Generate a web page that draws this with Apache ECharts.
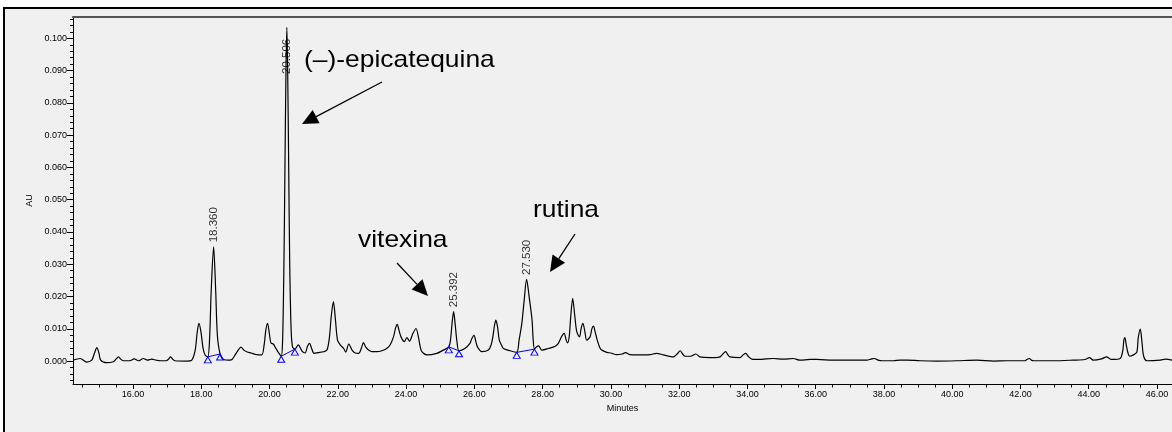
<!DOCTYPE html>
<html>
<head>
<meta charset="utf-8">
<script src="https://cdn.jsdelivr.net/npm/echarts@6/dist/echarts.min.js"></script>
<style>
  html, body { margin: 0; padding: 0; background: #ffffff; }
  #chart { width: 1172px; height: 432px; }
</style>
</head>
<body>
<div id="chart"></div>
<script>
// Chromatogram trace: retention time (min) and absorbance (AU)
const times = [
  14.24, 14.45, 14.64, 14.79, 14.87, 14.94, 15.00, 15.05, 15.23, 15.42,
  15.50, 15.57, 15.65, 15.72, 15.91, 16.03, 16.16, 16.30, 16.42, 16.55,
  16.67, 16.79, 16.97, 17.04, 17.10, 17.17, 17.23, 17.57, 17.72, 17.82,
  17.88, 17.93, 17.99, 18.05, 18.11, 18.19, 18.24, 18.29, 18.36, 18.42,
  18.47, 18.55, 18.65, 18.84, 18.90, 18.99, 19.08, 19.16, 19.25, 19.33,
  19.46, 19.62, 19.77, 19.84, 19.89, 19.94, 20.00, 20.04, 20.11, 20.18,
  20.25, 20.34, 20.38, 20.42, 20.45, 20.48, 20.506, 20.53, 20.56, 20.59,
  20.63, 20.67, 20.74, 20.84, 20.95, 21.04, 21.11, 21.17, 21.23, 21.30,
  21.42, 21.58, 21.68, 21.75, 21.81, 21.87, 21.93, 21.99, 22.07, 22.17,
  22.23, 22.32, 22.42, 22.51, 22.61, 22.69, 22.75, 22.82, 22.90, 23.00,
  23.14, 23.29, 23.43, 23.53, 23.63, 23.69, 23.74, 23.79, 23.85, 23.95,
  24.02, 24.10, 24.20, 24.29, 24.36, 24.41, 24.46, 24.61, 24.90, 25.09,
  25.25, 25.30, 25.35, 25.392, 25.44, 25.49, 25.55, 25.72, 25.87, 25.93,
  25.99, 26.04, 26.09, 26.22, 26.41, 26.49, 26.54, 26.59, 26.63, 26.68,
  26.73, 26.80, 26.85, 27.05, 27.24, 27.31, 27.39, 27.46, 27.53, 27.61,
  27.69, 27.72, 27.76, 27.81, 27.88, 27.98, 28.17, 28.37, 28.46, 28.56,
  28.63, 28.69, 28.73, 28.78, 28.82, 28.88, 28.94, 29.00, 29.08, 29.13,
  29.18, 29.24, 29.29, 29.39, 29.44, 29.49, 29.54, 29.60, 29.67, 29.73,
  29.88, 30.00, 30.17, 30.33, 30.43, 30.56, 30.77, 30.95, 31.15, 31.34,
  31.54, 31.83, 31.94, 32.03, 32.10, 32.17, 32.34, 32.49, 32.61, 32.91,
  33.05, 33.20, 33.28, 33.36, 33.43, 33.49, 33.78, 33.87, 33.95, 34.03,
  34.13, 34.37, 34.55, 34.76, 35.05, 35.34, 35.54, 35.84, 36.03, 36.52,
  37.01, 37.50, 37.62, 37.72, 37.83, 37.94, 38.28, 38.47, 38.67, 39.06,
  39.55, 40.13, 40.72, 41.21, 41.60, 42.13, 42.19, 42.26, 42.32, 42.38,
  42.96, 43.55, 43.89, 44.02, 44.13, 44.38, 44.52, 44.67, 44.92, 45.00,
  45.03, 45.06, 45.10, 45.15, 45.20, 45.32, 45.41, 45.45, 45.51, 45.56,
  45.61, 45.71, 46.10, 46.25, 46.44
];
const absorbance = [
  0.0003, 0.0008, -0.0003, 0.0003, 0.0025, 0.0042, 0.0025, 0.0003, -0.0005, -0.0002,
  0.0006, 0.0013, 0.0005, 0.0001, 0.0001, 0.0007, 0.0001, 0.0008, 0.0003, 0.0006,
  0.0003, 0.0001, 0.0001, 0.0006, 0.0013, 0.0005, 0.0001, 0.0000, 0.0003, 0.0034,
  0.0090, 0.0117, 0.0090, 0.0040, 0.0019, 0.0013, 0.0065, 0.0220, 0.0354, 0.0220,
  0.0080, 0.0022, 0.0005, 0.0003, 0.0005, 0.0019, 0.0034, 0.0043, 0.0034, 0.0029,
  0.0025, 0.0020, 0.0019, 0.0050, 0.0096, 0.0117, 0.0080, 0.0056, 0.0053, 0.0040,
  0.0028, 0.0015, 0.0060, 0.0300, 0.0600, 0.0900, 0.1034, 0.0900, 0.0600, 0.0300,
  0.0100, 0.0045, 0.0037, 0.0050, 0.0031, 0.0025, 0.0046, 0.0055, 0.0040, 0.0024,
  0.0026, 0.0029, 0.0034, 0.0071, 0.0142, 0.0184, 0.0127, 0.0065, 0.0050, 0.0039,
  0.0028, 0.0053, 0.0033, 0.0025, 0.0024, 0.0040, 0.0057, 0.0043, 0.0034, 0.0029,
  0.0029, 0.0032, 0.0039, 0.0050, 0.0075, 0.0102, 0.0114, 0.0096, 0.0075, 0.0060,
  0.0073, 0.0062, 0.0086, 0.0101, 0.0075, 0.0046, 0.0029, 0.0019, 0.0024, 0.0034,
  0.0044, 0.0065, 0.0121, 0.0153, 0.0111, 0.0060, 0.0032, 0.0039, 0.0055, 0.0071,
  0.0080, 0.0062, 0.0044, 0.0029, 0.0034, 0.0050, 0.0074, 0.0111, 0.0127, 0.0105,
  0.0065, 0.0048, 0.0039, 0.0032, 0.0027, 0.0065, 0.0117, 0.0189, 0.0253, 0.0195,
  0.0127, 0.0071, 0.0037, 0.0043, 0.0047, 0.0034, 0.0039, 0.0046, 0.0055, 0.0077,
  0.0086, 0.0065, 0.0056, 0.0077, 0.0133, 0.0194, 0.0142, 0.0091, 0.0075, 0.0102,
  0.0117, 0.0090, 0.0065, 0.0075, 0.0099, 0.0108, 0.0090, 0.0065, 0.0043, 0.0034,
  0.0027, 0.0025, 0.0020, 0.0022, 0.0026, 0.0020, 0.0019, 0.0019, 0.0020, 0.0024,
  0.0019, 0.0013, 0.0022, 0.0032, 0.0022, 0.0015, 0.0015, 0.0022, 0.0013, 0.0011,
  0.0011, 0.0013, 0.0022, 0.0029, 0.0019, 0.0013, 0.0011, 0.0019, 0.0024, 0.0014,
  0.0006, 0.0005, 0.0007, 0.0008, 0.0006, 0.0008, 0.0003, 0.0005, 0.0005, 0.0003,
  0.0003, 0.0003, 0.0006, 0.0008, 0.0003, 0.0001, 0.0001, 0.0003, 0.0003, 0.0001,
  0.0000, 0.0001, 0.0003, 0.0000, 0.0001, 0.0001, 0.0005, 0.0008, 0.0003, 0.0001,
  0.0001, 0.0003, 0.0005, 0.0011, 0.0003, 0.0007, 0.0013, 0.0005, 0.0008, 0.0034,
  0.0065, 0.0073, 0.0050, 0.0025, 0.0015, 0.0020, 0.0028, 0.0071, 0.0099, 0.0059,
  0.0015, 0.0001, 0.0003, 0.0006, 0.0003
];

// Integrated peaks: apex retention time and height
const peakTimes = [18.360, 20.506, 25.392, 27.530];
const peakHeights = [0.0354, 0.1034, 0.0153, 0.0253];

// Integration baselines (start / end of each peak)
const baseStartT = [18.19, 20.34, 25.25, 27.24];
const baseStartV = [0.0013, 0.0015, 0.0044, 0.0027];
const baseEndT = [18.55, 20.74, 25.55, 27.76];
const baseEndV = [0.0022, 0.0037, 0.0032, 0.0037];

// Axis tick labels
const xTickLabels = [16, 18, 20, 22, 24, 26, 28, 30, 32, 34, 36, 38, 40, 42, 44, 46];
const yTickLabels = [0, 0.01, 0.02, 0.03, 0.04, 0.05, 0.06, 0.07, 0.08, 0.09, 0.1];

// Identified compounds
const compounds = ['(\u2013)-epicatequina', 'vitexina', 'rutina'];

const X_MIN = 14.24, X_MAX = 46.44;
const Y_MIN = -0.0071, Y_MAX = 0.1066;
const FONT = '"Liberation Sans", Arial, sans-serif';

const xMinor = [];
for (let t = 14.5; t <= X_MAX; t += 0.5) {
  if (Math.abs(t / 2 - Math.round(t / 2)) > 1e-6) xMinor.push(t);
}
const yMinor = [];
for (let k = -3; k <= 53; k++) {
  if (k % 5 !== 0) yMinor.push(+(k * 0.002).toFixed(3));
}

const trace = times.map((t, i) => [t, absorbance[i]]);

const peakLabelData = peakTimes.map((t, i) => {
  const item = { value: [t, peakHeights[i]] };
  if (t === 20.506) {
    // no headroom above the tallest peak: label drawn along the peak
    item.label = { position: 'bottom', distance: 11, align: 'right' };
  }
  return item;
});

const baselineSeries = baseStartT.map((t, i) => ({
  type: 'line',
  xAxisIndex: 0, yAxisIndex: 0,
  data: [[t, baseStartV[i]], [baseEndT[i], baseEndV[i]]],
  symbol: 'triangle',
  symbolSize: [7, 6],
  symbolOffset: [0, 3],
  showSymbol: true,
  itemStyle: { color: 'rgba(0,0,0,0)', borderColor: '#0000ff', borderWidth: 1 },
  lineStyle: { color: '#0000ff', width: 1 },
  z: 4,
  silent: true
}));

function arrow(x1, y1, x2, y2) {
  const dx = x2 - x1, dy = y2 - y1;
  const len = Math.sqrt(dx * dx + dy * dy);
  const ux = dx / len, uy = dy / len;
  const headLen = 16, halfW = 7.5;
  const bx = x2 - ux * headLen, by = y2 - uy * headLen;
  return [
    { type: 'line', silent: true, z: 10,
      shape: { x1: x1, y1: y1, x2: bx, y2: by },
      style: { stroke: '#000', lineWidth: 1.3 } },
    { type: 'polygon', silent: true, z: 10,
      shape: { points: [[x2, y2], [bx - uy * halfW, by + ux * halfW], [bx + uy * halfW, by - ux * halfW]] },
      style: { fill: '#000' } }
  ];
}

function annotation(text, x, y) {
  return {
    type: 'text', silent: true, z: 10, x: x, y: y, scaleX: 1.1,
    style: {
      text: text, fontSize: 24, fontFamily: FONT, fill: '#000',
      align: 'left', verticalAlign: 'middle',
      textAlign: 'left', textVerticalAlign: 'middle'
    }
  };
}

const chart = echarts.init(document.getElementById('chart'), null, { renderer: 'canvas' });

chart.setOption({
  animation: false,
  backgroundColor: '#ffffff',
  grid: { left: 73, right: 0, top: 17, height: 367, containLabel: false },
  xAxis: [
    {
      type: 'value', min: X_MIN, max: X_MAX, position: 'bottom',
      axisLine: { show: true, onZero: false, lineStyle: { color: '#000', width: 1 } },
      axisTick: { show: true, customValues: xTickLabels, length: 5, lineStyle: { color: '#000' } },
      axisLabel: {
        customValues: xTickLabels, formatter: v => v.toFixed(2),
        fontSize: 9, fontFamily: FONT, color: '#000', margin: 6
      },
      splitLine: { show: false },
      name: 'Minutes', nameLocation: 'middle', nameGap: 20,
      nameTextStyle: { fontSize: 9, fontFamily: FONT, color: '#000' }
    },
    {
      type: 'value', min: X_MIN, max: X_MAX, position: 'bottom',
      axisLine: { show: false, onZero: false },
      axisTick: { show: true, customValues: xMinor, length: 3.5, lineStyle: { color: '#000' } },
      axisLabel: { show: false },
      splitLine: { show: false }
    },
    {
      type: 'value', min: X_MIN, max: X_MAX, position: 'top',
      axisLine: { show: true, onZero: false, lineStyle: { color: '#555', width: 2 } },
      axisTick: { show: false }, axisLabel: { show: false }, splitLine: { show: false }
    }
  ],
  yAxis: [
    {
      type: 'value', min: Y_MIN, max: Y_MAX, position: 'left',
      axisLine: { show: true, onZero: false, lineStyle: { color: '#000', width: 1 } },
      axisTick: { show: true, customValues: yTickLabels, length: 6, lineStyle: { color: '#000' } },
      axisLabel: {
        customValues: yTickLabels, formatter: v => v.toFixed(3),
        fontSize: 9, fontFamily: FONT, color: '#000', margin: 6
      },
      splitLine: { show: false },
      name: 'AU', nameLocation: 'middle', nameGap: 33, nameRotate: 90,
      nameTextStyle: { fontSize: 9, fontFamily: FONT, color: '#000' }
    },
    {
      type: 'value', min: Y_MIN, max: Y_MAX, position: 'left',
      axisLine: { show: false, onZero: false },
      axisTick: { show: true, customValues: yMinor, length: 3, lineStyle: { color: '#000' } },
      axisLabel: { show: false },
      splitLine: { show: false }
    }
  ],
  series: [
    {
      type: 'line', xAxisIndex: 0, yAxisIndex: 0,
      data: trace, showSymbol: false, smooth: 0.3,
      lineStyle: { color: '#000', width: 1.2 },
      z: 3, silent: true
    },
    ...baselineSeries,
    {
      type: 'scatter', xAxisIndex: 0, yAxisIndex: 0,
      data: peakLabelData, symbolSize: 1,
      itemStyle: { color: 'rgba(0,0,0,0)' },
      label: {
        show: true, position: 'top', distance: 4, rotate: 90,
        align: 'left', verticalAlign: 'middle',
        fontSize: 11.5, fontFamily: FONT, color: '#000',
        formatter: p => p.value[0].toFixed(3)
      },
      z: 5, silent: true
    }
  ],
  graphic: [
    { type: 'rect', silent: true, z: -10,
      shape: { x: 4, y: 8, width: 1200, height: 460 },
      style: { fill: '#f0f0f0', stroke: '#000', lineWidth: 2 } },
    annotation(compounds[0], 304, 60),
    annotation(compounds[1], 358, 240),
    annotation(compounds[2], 533, 210),
    ...arrow(382, 82, 302, 124),
    ...arrow(397, 263, 428, 296),
    ...arrow(575, 234, 550, 272)
  ]
});
</script>
</body>
</html>
